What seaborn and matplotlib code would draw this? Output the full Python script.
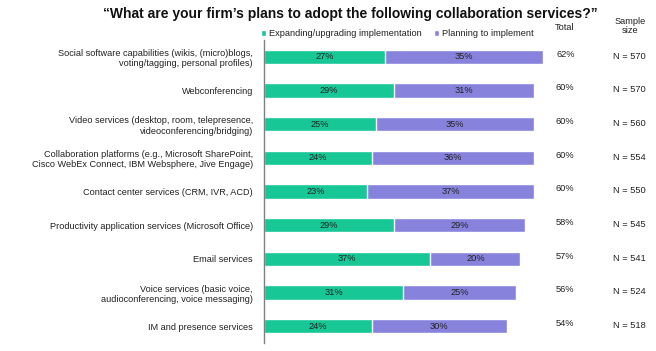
import matplotlib
matplotlib.use("Agg")
import matplotlib.pyplot as plt
import seaborn as sns
import pandas as pd

categories = [
    "Social software capabilities (wikis, (micro)blogs,\nvoting/tagging, personal profiles)",
    "Webconferencing",
    "Video services (desktop, room, telepresence,\nvideoconferencing/bridging)",
    "Collaboration platforms (e.g., Microsoft SharePoint,\nCisco WebEx Connect, IBM Websphere, Jive Engage)",
    "Contact center services (CRM, IVR, ACD)",
    "Productivity application services (Microsoft Office)",
    "Email services",
    "Voice services (basic voice,\naudioconferencing, voice messaging)",
    "IM and presence services",
]
expanding = [27, 29, 25, 24, 23, 29, 37, 31, 24]
planning = [35, 31, 35, 36, 37, 29, 20, 25, 30]
totals = [62, 60, 60, 60, 60, 58, 57, 56, 54]
samples = [570, 570, 560, 554, 550, 545, 541, 524, 518]
series_names = ["Expanding/upgrading implementation", "Planning to implement"]

GREEN = "#17C796"
PURPLE = "#8783DD"

sns.set_theme(style="white")
plt.rcParams["font.family"] = ["Liberation Sans", "DejaVu Sans"]

df = pd.DataFrame({
    "cat": categories,
    "exp": expanding,
    "plan": planning,
    "stack": [e + p for e, p in zip(expanding, planning)],
})

fig = plt.figure(figsize=(6.56, 3.51), dpi=100)
ax = fig.add_axes([264 / 656, 1 - 343 / 351, 313 / 656, 303 / 351])

sns.barplot(data=df, y="cat", x="stack", color=PURPLE, orient="h", width=0.42,
            saturation=1, ax=ax, label=series_names[1])
sns.barplot(data=df, y="cat", x="exp", color=GREEN, orient="h", width=0.42,
            saturation=1, ax=ax, label=series_names[0])
handles, labels = ax.get_legend_handles_labels()
if ax.get_legend() is not None:
    ax.get_legend().remove()

ax.set_xlim(0, 69.6)
ax.set_ylim(len(categories) - 0.5, -0.5)
ax.set_xlabel("")
ax.set_ylabel("")
ax.set_xticks([])
for s in ["top", "right", "bottom"]:
    ax.spines[s].set_visible(False)
ax.spines["left"].set_color("#808080")
ax.spines["left"].set_linewidth(1)
ax.tick_params(axis="y", length=0, pad=8, labelsize=6.55, labelcolor="#222222")
for lbl in ax.get_yticklabels():
    lbl.set_horizontalalignment("right")
    lbl.set_multialignment("right")

for i, (e, p) in enumerate(zip(expanding, planning)):
    ax.text(e / 2, i, f"{e}%", ha="center", va="center", fontsize=6.7, color="#222222")
    ax.text(e + p / 2, i, f"{p}%", ha="center", va="center", fontsize=6.7, color="#222222")
    ax.text(67.0, i - 0.08, f"{totals[i]}%", ha="center", va="center", fontsize=6.7,
            color="#222222", clip_on=False)
    ax.text(81.2, i - 0.02, f"N = {samples[i]}", ha="center", va="center", fontsize=6.7,
            color="#222222", clip_on=False)

fig.text(565 / 656, 1 - 28 / 351, "Total", ha="center", va="center", fontsize=6.7, color="#222222")
fig.text(630 / 656, 1 - 26 / 351, "Sample\nsize", ha="center", va="center", fontsize=6.7,
         color="#222222", linespacing=1.1)

fig.text(350 / 656, 1 - 14 / 351,
         "\u201cWhat are your firm\u2019s plans to adopt the following collaboration services?\u201d",
         ha="center", va="center", fontsize=10, fontweight="bold", color="#111111")

order = [labels.index(series_names[0]), labels.index(series_names[1])]
leg = fig.legend([handles[k] for k in order], [labels[k] for k in order],
                 loc="center left", bbox_to_anchor=(261 / 656, 1 - 34 / 351),
                 ncol=2, frameon=False, fontsize=6.7, handlelength=0.55, handleheight=0.55,
                 handletextpad=0.3, columnspacing=1.3, borderaxespad=0, borderpad=0)
for t in leg.get_texts():
    t.set_color("#222222")

fig.savefig("out.png", dpi=100)
